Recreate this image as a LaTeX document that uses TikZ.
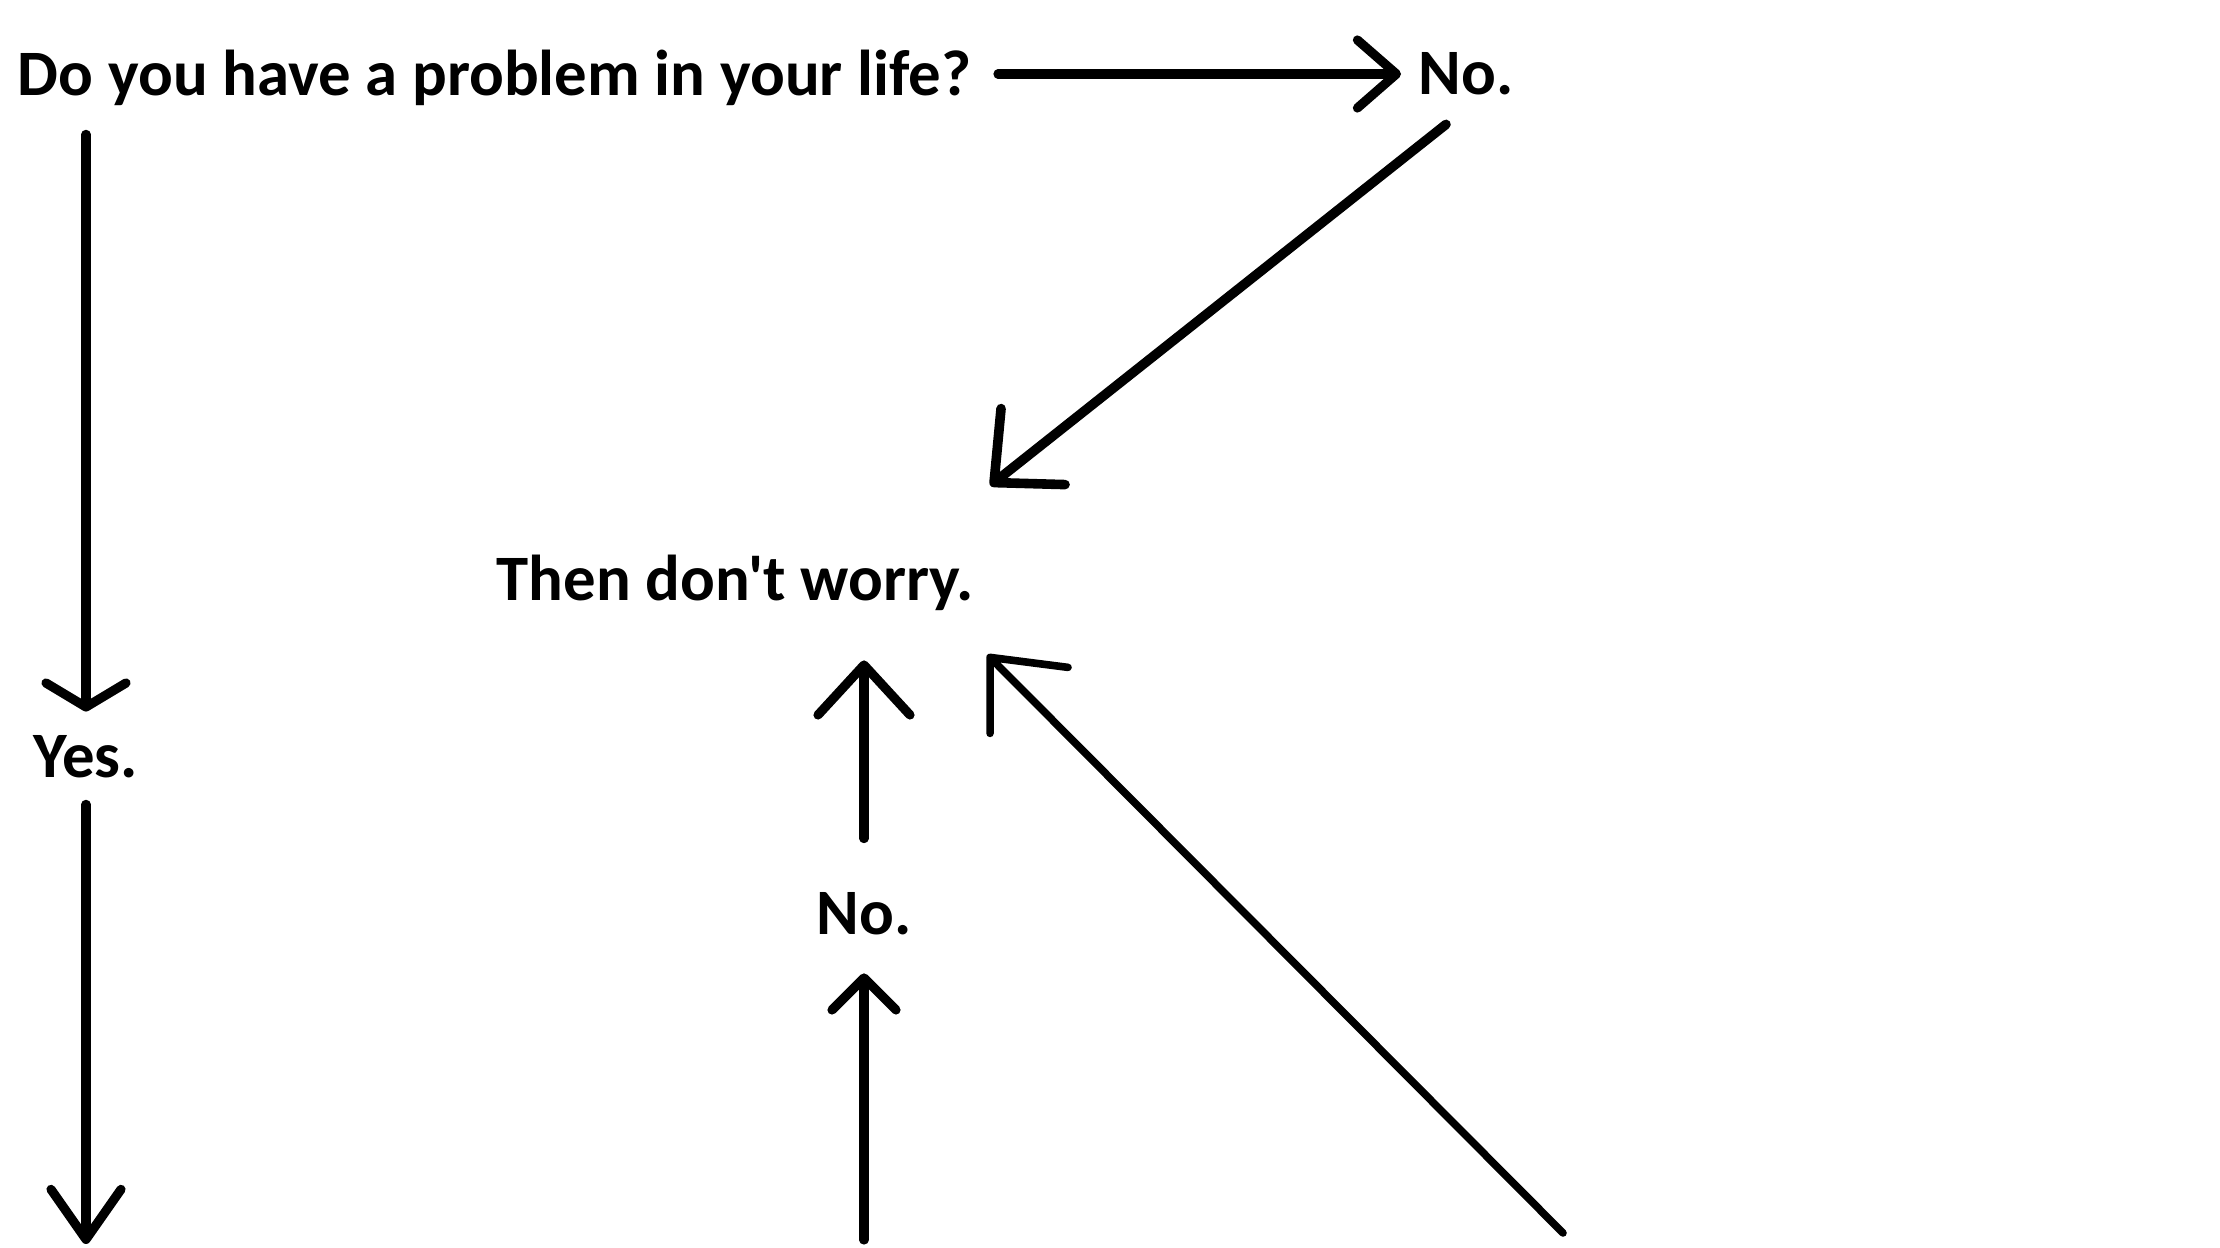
\documentclass[tikz,border=0pt]{standalone}
\usepackage{fontspec}
\setmainfont{Carlito}[Ligatures=TeXOff]
\usetikzlibrary{arrows.meta,calc}
\tikzset{
  txt/.style={font=\bfseries\fontsize{16.2pt}{19pt}\selectfont, inner sep=0pt, text height=10.3pt, text depth=0pt},
  conn/.style={line width=2.3pt, line cap=round, line join=round, black},
}
\begin{document}
\begin{tikzpicture}[x=0.25pt,y=-0.25pt]
\fill[white] (0,0) rectangle (2220,1248);
\useasboundingbox (0,0) rectangle (2220,1248);
% nodes
\node[txt, anchor=west] (q) at (17,75) {Do you have a problem in your life?};
\node[txt, anchor=west] (no1) at (1418,74) {No.};
\node[txt, anchor=west] (then) at (496,580) {Then don't worry.};
\node[txt] (yes) at (86,757) {Yes.};
\node[txt] (no2) at (864,914) {No.};
\coordinate (bl) at (yes.south |- 0,1244);
\coordinate (bm) at (no2.south |- 0,1240);
\coordinate (br) at (1563,1233);
\coordinate (t2) at ($(then.north east)+(20,-76)$);
\coordinate (t7) at ($(then.south east)+(16,56)$);
% connectors
\draw[conn, -{Straight Barb[length=9.75pt, width=17pt, round]}]
  ($(q.east)+(26,-1)$) -- ($(no1.west)+(-17,0)$);
\draw[conn, line width=2.4pt]
  ($(no1.south west)+(28,29)$) -- (t2) -- +(7,-74) (t2) -- +(71,2);
\draw[conn, -{Straight Barb[length=6pt, width=20pt, round]}]
  ($(yes.north |- q.south)+(0,38)$) -- ($(yes.north)+(0,-24)$);
\draw[conn, -{Straight Barb[length=12.5pt, width=17.5pt, round]}]
  ($(yes.south)+(0,26)$) -- (bl);
\draw[conn, -{Straight Barb[length=8pt, width=16pt, round]}]
  (bm) -- ($(no2.south)+(0,38)$);
\draw[conn, -{Straight Barb[length=12.5pt, width=23pt, round]}]
  ($(no2.north)+(0,-54)$) -- ($(no2.north |- then.south)+(0,59)$);
\draw[conn, line width=1.9pt]
  (br) -- (t7) -- +(0,76) (t7) -- +(78,10);
\end{tikzpicture}
\end{document}
